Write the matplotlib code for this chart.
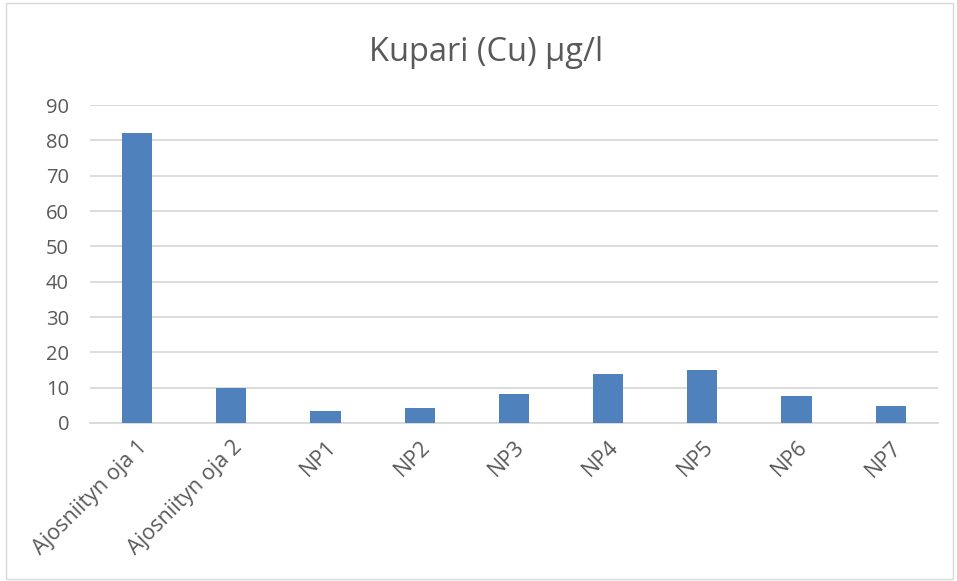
import numpy as np
import matplotlib.pyplot as plt
from matplotlib.patches import Rectangle

plt.rcParams["font.family"] = ["Open Sans", "DejaVu Sans"]

sites = ["Ajosniityn oja 1", "Ajosniityn oja 2", "NP1", "NP2", "NP3",
         "NP4", "NP5", "NP6", "NP7"]
cu = [82, 10, 3.5, 4.3, 8.2, 13.8, 14.9, 7.5, 4.9]
yticks = list(range(0, 100, 10))

gray = "#595959"

fig = plt.figure(figsize=(9.57, 5.81), dpi=100)
ax = fig.add_axes([0.094, 0.272, 0.886, 0.547])

x = np.arange(len(sites))
ax.bar(x, cu, width=0.32, color="#4f81bd", zorder=3)

ax.set_xlim(-0.5, len(sites) - 0.5)
ax.set_ylim(0, 90)
ax.set_yticks(yticks)
ax.set_xticks(x)
ax.set_xticklabels(sites, rotation=45, ha="right", rotation_mode="anchor",
                   fontsize=15.5, color=gray)
ax.tick_params(axis="y", labelsize=14.5, labelcolor=gray, length=0, pad=15)
ax.tick_params(axis="x", length=0, pad=10)
ax.grid(axis="y", color="#d9d9d9", linewidth=1.3, zorder=0)
for s in ["top", "right", "left"]:
    ax.spines[s].set_visible(False)
ax.spines["bottom"].set_color("#d9d9d9")
ax.spines["bottom"].set_linewidth(1.3)

fig.text(0.508, 0.91, "Kupari (Cu) µg/l", ha="center", va="center",
         fontsize=23.5, color=gray)

fig.patches.append(Rectangle((0.006, 0.004), 0.99, 0.99, transform=fig.transFigure,
                             fill=False, edgecolor="#d9d9d9", linewidth=1))

fig.savefig("out.png", dpi=100)
